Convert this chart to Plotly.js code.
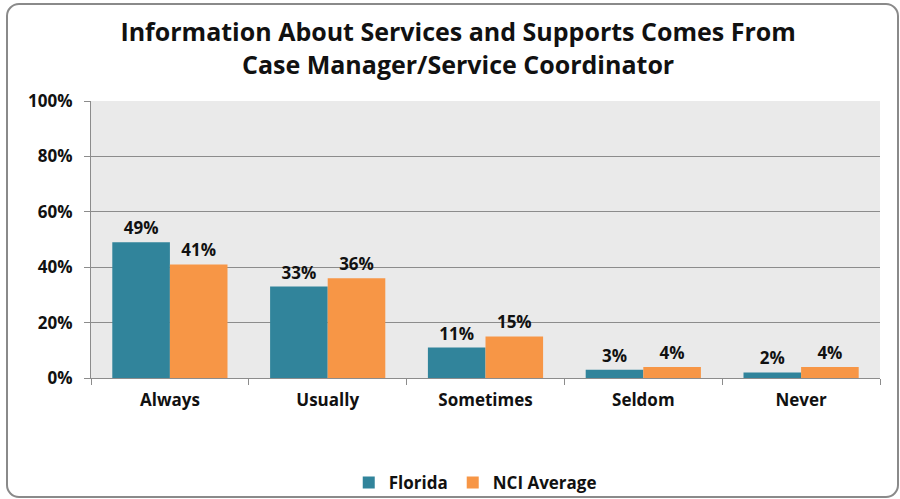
<!DOCTYPE html>
<html>
<head>
<meta charset="utf-8">
<script src="https://cdn.plot.ly/plotly-3.0.1.min.js"></script>
<style>
  html, body { margin: 0; padding: 0; background: #fff; }
  #wrap { position: relative; width: 900px; height: 499px; overflow: hidden; }
  #frame { position: absolute; left: 6px; top: 3px; width: 889px; height: 491px; border: 2px solid #8a8a8a; border-radius: 13px; box-sizing: content-box; pointer-events: none; z-index: 5; }
  #chart { position: absolute; left: 0; top: 0; width: 900px; height: 499px; }
</style>
</head>
<body>
<div id="wrap">
  <div id="chart"></div>
  <div id="frame"></div>
</div>
<script>
const categories = ["Always", "Usually", "Sometimes", "Seldom", "Never"];
const floridaValues = [49, 33, 11, 3, 2];
const nciValues = [41, 36, 15, 4, 4];
const seriesNames = ["Florida", "NCI Average"];
const yTickValues = [0, 20, 40, 60, 80, 100];
const yTickLabels = ["0%", "20%", "40%", "60%", "80%", "100%"];

const FONT = "'Open Sans', sans-serif";
const labelFont = { family: FONT, size: 17, color: "#111", weight: 700 };

const traces = [
  {
    type: "bar", name: seriesNames[0], x: categories, y: floridaValues,
    marker: { color: "#31849B" },
    text: floridaValues.map(v => v + "%"), textposition: "outside",
    textfont: labelFont, cliponaxis: false
  },
  {
    type: "bar", name: seriesNames[1], x: categories, y: nciValues,
    marker: { color: "#F79646" },
    text: nciValues.map(v => v + "%"), textposition: "outside",
    textfont: labelFont, cliponaxis: false
  }
];

const layout = {
  width: 900, height: 499,
  margin: { l: 91, r: 20, t: 101, b: 121, autoexpand: false },
  paper_bgcolor: "rgba(0,0,0,0)",
  plot_bgcolor: "#EAEAEA",
  barmode: "group",
  bargap: 0.27,
  bargroupgap: 0,
  title: {
    text: "Information About Services and Supports Comes From<br>Case Manager/Service Coordinator",
    font: { family: FONT, size: 25, color: "#111", weight: 700 },
    x: 0.509, xanchor: "center", y: 0.917, yanchor: "middle"
  },
  xaxis: {
    type: "category", automargin: false,
    showline: true, linecolor: "#8c8c8c", linewidth: 1,
    ticks: "outside", tickson: "boundaries", ticklen: 6, tickcolor: "#8c8c8c",
    tickfont: { family: FONT, size: 17, color: "#111", weight: 700 },
    ticklabelstandoff: 7,
    showgrid: false
  },
  yaxis: {
    range: [0, 100], automargin: false,
    tickvals: yTickValues, ticktext: yTickLabels,
    showline: true, linecolor: "#8c8c8c", linewidth: 1,
    ticks: "outside", ticklen: 6, tickcolor: "#8c8c8c",
    gridcolor: "#8c8c8c", gridwidth: 1,
    tickfont: { family: FONT, size: 17, color: "#111", weight: 700 },
    ticklabelstandoff: 8,
    zeroline: false
  },
  showlegend: true,
  legend: {
    orientation: "h", x: 0.487, xanchor: "center",
    yref: "container", y: 0.032, yanchor: "middle",
    font: { family: FONT, size: 17, color: "#111", weight: 700 },
    itemwidth: 30
  }
};

Plotly.newPlot("chart", traces, layout, { displayModeBar: false, staticPlot: true });
</script>
</body>
</html>
